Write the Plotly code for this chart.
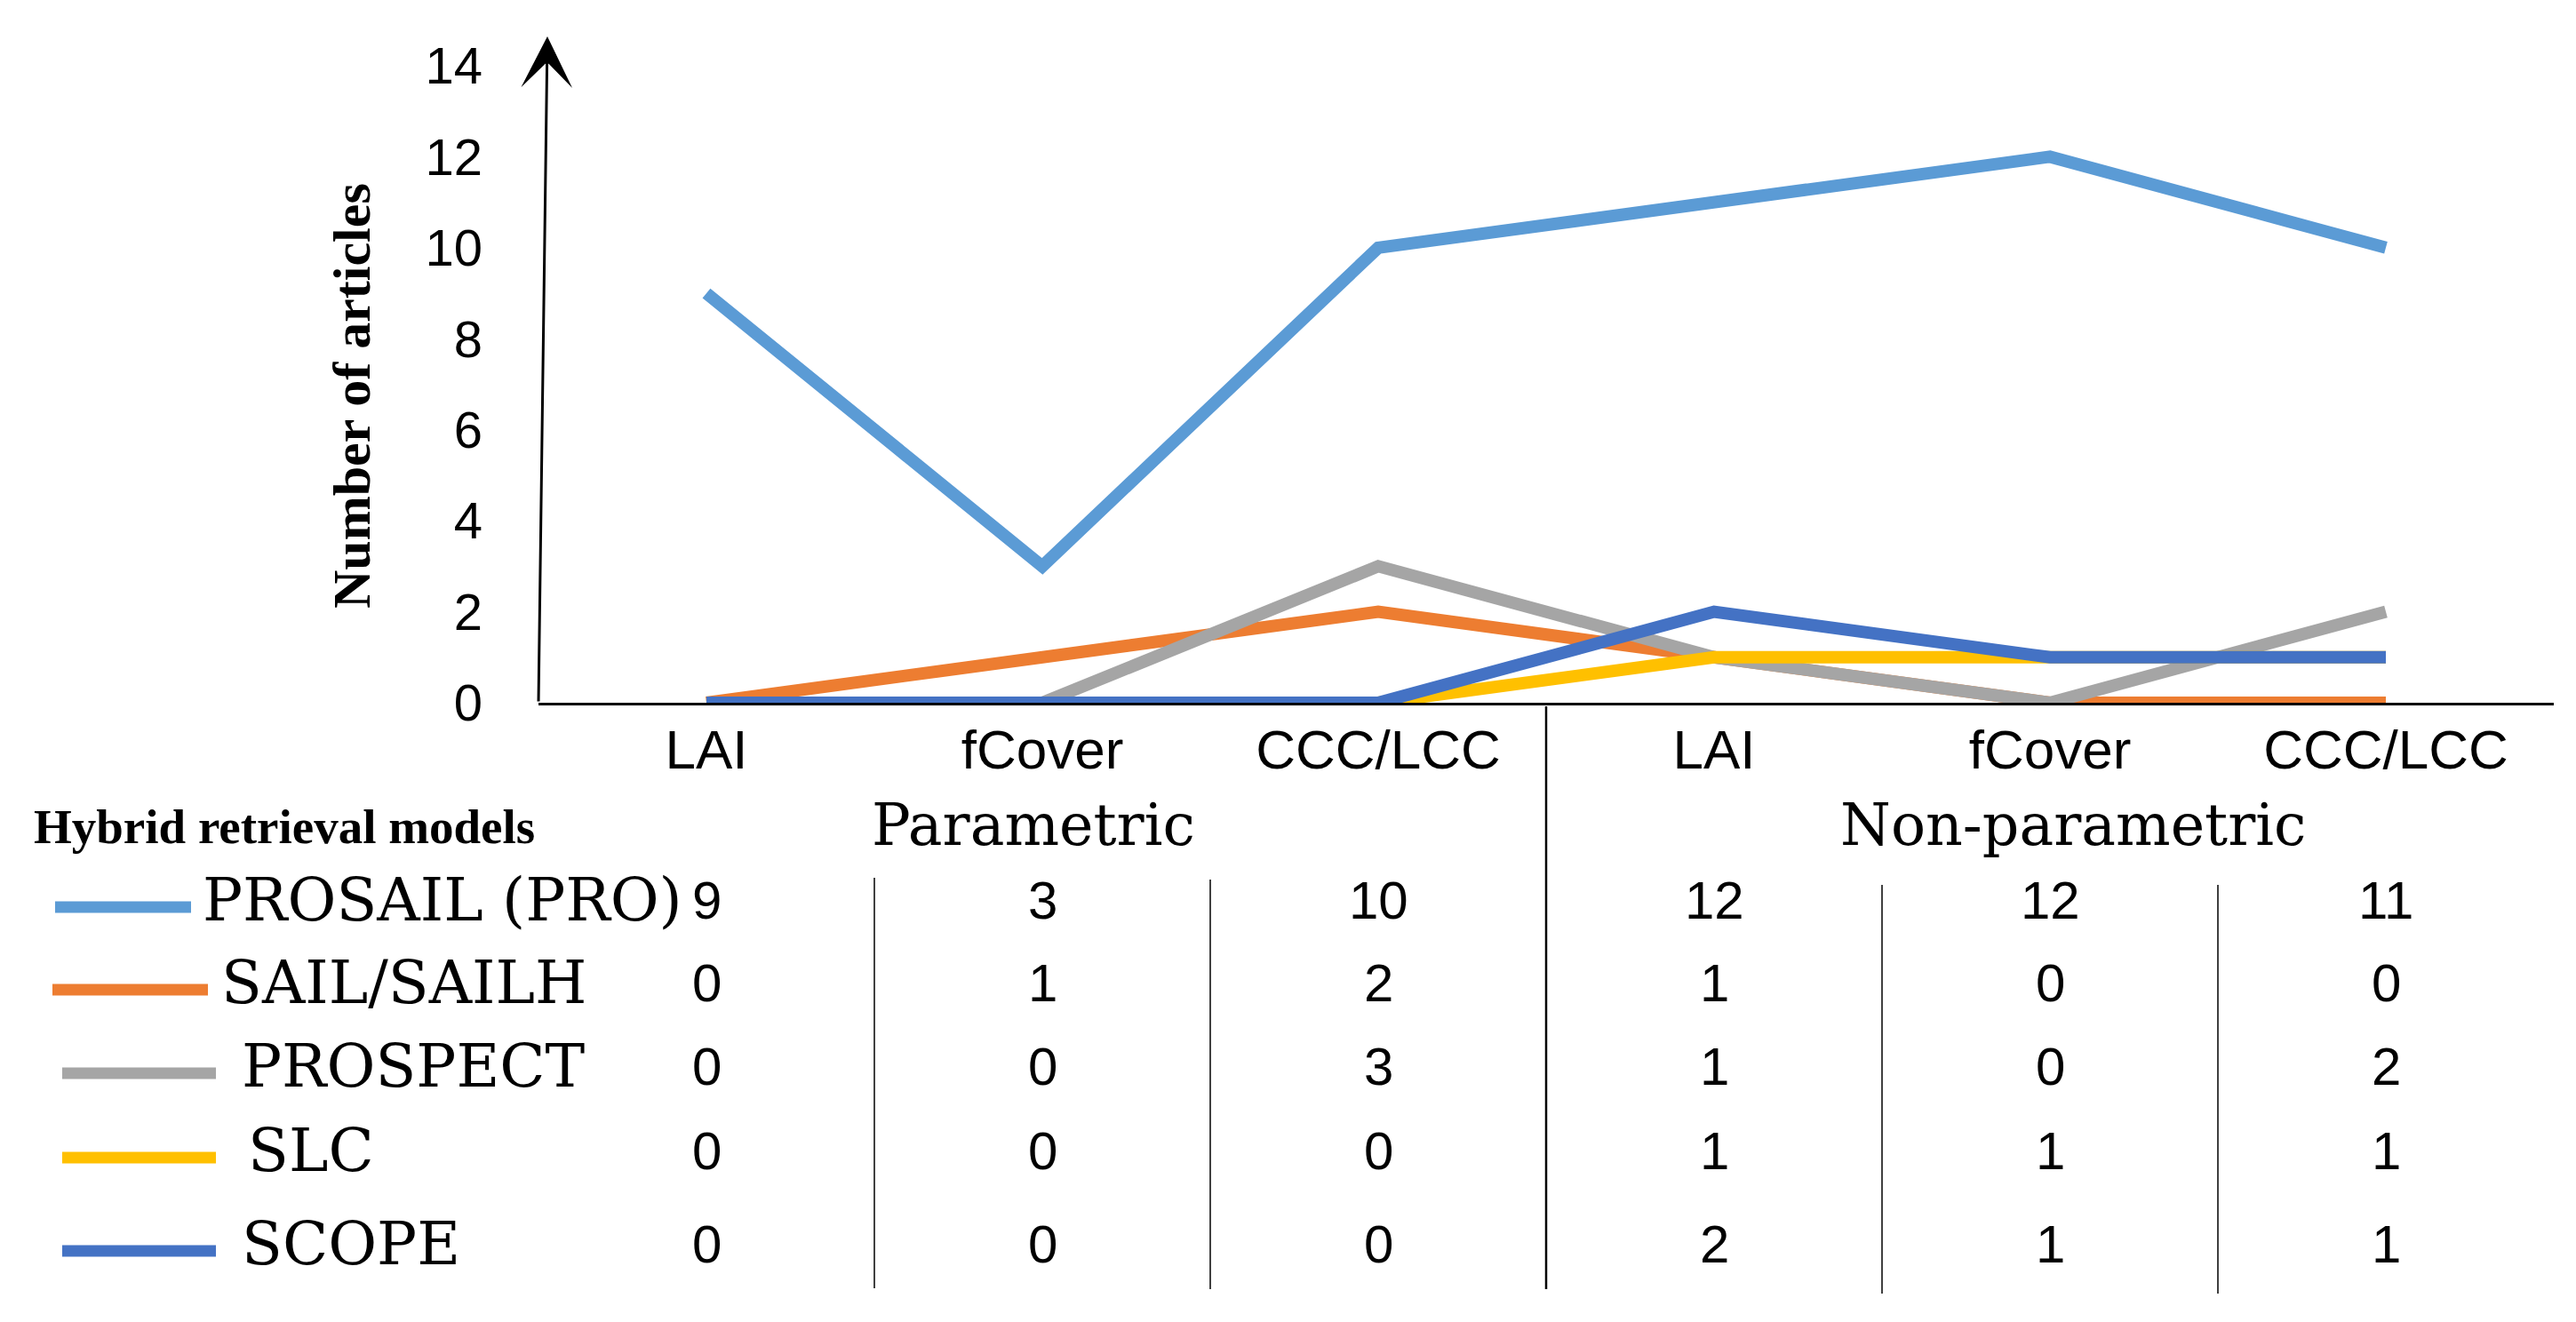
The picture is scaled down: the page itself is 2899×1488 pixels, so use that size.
import plotly.graph_objects as go

# ---------------- data ----------------
categories = ["LAI", "fCover", "CCC/LCC", "LAI", "fCover", "CCC/LCC"]
group_labels = ["Parametric", "Non-parametric"]
series_names = ["PROSAIL (PRO)", "SAIL/SAILH", "PROSPECT", "SLC", "SCOPE"]
series_colors = ["#5B9BD5", "#ED7D31", "#A5A5A5", "#FFC000", "#4472C4"]

# values drawn as lines in the chart
prosail_line = [9, 3, 10, 11, 12, 10]
sail_line = [0, 1, 2, 1, 0, 0]
prospect_line = [0, 0, 3, 1, 0, 2]
slc_line = [0, 0, 0, 1, 1, 1]
scope_line = [0, 0, 0, 2, 1, 1]

# values printed in the table under the chart
prosail_table = [9, 3, 10, 12, 12, 11]
sail_table = [0, 1, 2, 1, 0, 0]
prospect_table = [0, 0, 3, 1, 0, 2]
slc_table = [0, 0, 0, 1, 1, 1]
scope_table = [0, 0, 0, 2, 1, 1]

y_tick_values = [0, 2, 4, 6, 8, 10, 12, 14]
y_title = "Number of articles"
legend_title = "Hybrid retrieval models"

line_series = [prosail_line, sail_line, prospect_line, slc_line, scope_line]
table_series = [prosail_table, sail_table, prospect_table, slc_table, scope_table]

# ---------------- layout geometry (page pixels) ----------------
W, H = 2899, 1488
OFF = 8  # default body margin of the page
L, R, T, B = 606, 2874, 41, 791


def pxx(x):
    return (x - L) / (R - L)


def pxy(y):
    return (B - y) / (B - T)


SANS = "Liberation Sans, Arial, sans-serif"
SERIF = "DejaVu Serif, serif"
SERIF_B = "Liberation Serif, Times New Roman, serif"

fig = go.Figure()
x_idx = list(range(len(categories)))
for name, vals, col in zip(series_names, line_series, series_colors):
    fig.add_trace(go.Scatter(x=x_idx, y=vals, mode="lines", name=name,
                             line=dict(color=col, width=14),
                             showlegend=False, cliponaxis=False))

annotations = []
shapes = []

# y axis with arrow
annotations.append(dict(x=pxx(616), y=pxy(41), xref="paper", yref="paper",
                        ax=-10, ay=750, text="", showarrow=True,
                        arrowhead=3, arrowwidth=3, arrowsize=3.2,
                        arrowcolor="black"))

# y title
annotations.append(dict(x=pxx(396), y=pxy(446), xref="paper", yref="paper",
                        text="<b>" + y_title + "</b>", textangle=-90,
                        showarrow=False, xanchor="center", yanchor="middle",
                        font=dict(family=SERIF_B, size=60, color="black")))

# legend title
annotations.append(dict(x=pxx(36), y=pxy(930), xref="paper", yref="paper",
                        text="<b>" + legend_title + "</b>", showarrow=False,
                        xanchor="left", yanchor="middle",
                        font=dict(family=SERIF_B, size=55, color="black")))

# group labels
group_centers_px = [1163, 2333]
for g, cx in zip(group_labels, group_centers_px):
    annotations.append(dict(x=pxx(cx), y=pxy(928), xref="paper", yref="paper",
                            text=g, showarrow=False, xanchor="center",
                            yanchor="middle",
                            font=dict(family=SERIF, size=65, color="black")))

# legend rows + table values
row_y = [1013, 1106, 1200, 1295, 1400]
legend_line_x = [(57, 220), (54, 239), (65, 248), (65, 248), (65, 248)]
legend_text_x = [226, 247, 270, 277, 270]
for i, name in enumerate(series_names):
    x0, x1 = legend_line_x[i]
    shapes.append(dict(type="line", xref="paper", yref="paper",
                       x0=pxx(x0 + 5), x1=pxx(x1 - 5),
                       y0=pxy(row_y[i] + 8), y1=pxy(row_y[i] + 8),
                       line=dict(color=series_colors[i], width=13)))
    annotations.append(dict(x=pxx(legend_text_x[i]), y=pxy(row_y[i]),
                            xref="paper", yref="paper", text=name,
                            showarrow=False, xanchor="left", yanchor="middle",
                            font=dict(family=SERIF, size=67, color="black")))
    for j, v in enumerate(table_series[i]):
        annotations.append(dict(x=j, y=pxy(row_y[i]), xref="x", yref="paper",
                                text=str(v), showarrow=False,
                                xanchor="center", yanchor="middle",
                                font=dict(family=SANS, size=60, color="black")))

# dividers
shapes.append(dict(type="line", xref="x", yref="paper", x0=2.5, x1=2.5,
                   y0=pxy(795), y1=pxy(1451),
                   line=dict(color="black", width=2.5)))
for xb, ytop, ybot in [(0.5, 988, 1450), (1.5, 990, 1451),
                       (3.5, 996, 1456), (4.5, 996, 1456)]:
    shapes.append(dict(type="line", xref="x", yref="paper", x0=xb, x1=xb,
                       y0=pxy(ytop), y1=pxy(ybot),
                       line=dict(color="black", width=1.5)))

fig.update_layout(
    width=W - 2 * OFF, height=H - 2 * OFF,
    margin=dict(l=L - OFF, r=W - R - OFF, t=T - OFF, b=H - B - OFF, pad=0),
    paper_bgcolor="white", plot_bgcolor="white",
    showlegend=False,
    annotations=annotations,
    shapes=shapes,
    xaxis=dict(range=[-0.5, 5.5], tickmode="array", tickvals=x_idx,
               ticktext=categories, showline=True, linecolor="black",
               linewidth=3, ticks="", showgrid=False, zeroline=False,
               tickfont=dict(family=SANS, size=62, color="black"),
               ticklabelstandoff=-3),
    yaxis=dict(range=[0, (B - T) / (B - 74) * 14], tickmode="array",
               tickvals=y_tick_values, showline=False, ticks="",
               showgrid=False, zeroline=False,
               tickfont=dict(family=SANS, size=58, color="black"),
               ticklabelstandoff=62),
)

fig.write_html("out.html")
